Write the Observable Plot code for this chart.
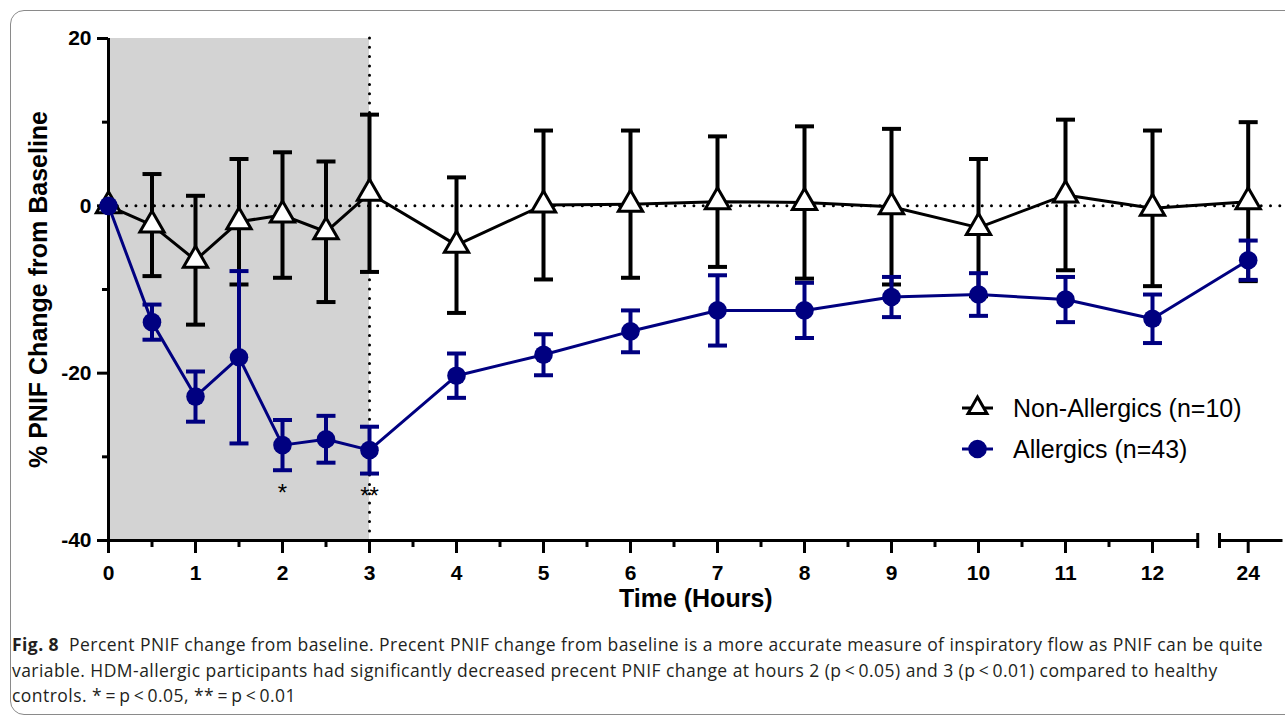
<!DOCTYPE html>
<html>
<head>
<meta charset="utf-8">
<script src="https://cdn.jsdelivr.net/npm/d3@7"></script>
<script src="https://cdn.jsdelivr.net/npm/@observablehq/plot@0.6"></script>
<style>
  html, body { margin: 0; padding: 0; background: white; }
  #wrap { position: relative; width: 1285px; height: 717px; overflow: hidden; }
  #chart { position: absolute; left: 0; top: 0; }
  #box { position: absolute; left: 10px; top: 10px; width: 1300px; height: 703px;
         border: 1.5px solid #8a8a8a; border-radius: 14px; pointer-events: none; }
  #legend { position: absolute; left: 960px; top: 394px; font-family: "Liberation Sans", Arial, sans-serif;
            font-size: 25px; color: #000; }
  .row { position: absolute; left: 0; height: 28px; white-space: nowrap; }
  .row svg { position: absolute; left: 0; top: 0; }
  .row span { position: absolute; left: 53px; top: 1px; line-height: 26px; }
  #caption { position: absolute; left: 12px; top: 632px; font-family: "Open Sans", "Noto Sans", sans-serif;
             font-size: 17.5px; line-height: 25.5px; color: #231f20; white-space: nowrap; letter-spacing: 0.45px; }
</style>
</head>
<body>
<div id="wrap">
  <div id="chart"></div>
  <div id="legend"></div>
  <div id="caption"></div>
  <div id="box"></div>
</div>
<script>
// ---------------- data ----------------
const times = [0, 0.5, 1, 1.5, 2, 2.5, 3, 4, 5, 6, 7, 8, 9, 10, 11, 12, 24];
const nonAllergicMean = [0, -2.3, -6.5, -1.9, -1.1, -3.1, 1.5, -4.7, 0.1, 0.2, 0.5, 0.4, -0.1, -2.6, 1.3, -0.3, 0.5];
const nonAllergicErr  = [0, 6.1, 7.7, 7.5, 7.5, 8.4, 9.4, 8.1, 8.9, 8.8, 7.8, 9.1, 9.3, 8.2, 9.0, 9.3, 9.5];
const allergicMean = [0, -13.9, -22.8, -18.1, -28.6, -27.9, -29.2, -20.3, -17.8, -15.0, -12.5, -12.5, -10.9, -10.6, -11.2, -13.5, -6.5];
const allergicErr  = [0, 2.1, 3.0, 10.3, 3.0, 2.8, 2.8, 2.65, 2.45, 2.5, 4.2, 3.3, 2.4, 2.55, 2.7, 2.9, 2.35];
const seriesNames = ["Non-Allergics (n=10)", "Allergics (n=43)"];
const sigTimes = [2, 3];
const sigLabels = ["*", "**"];
const xTickLabels = [0, 1, 2, 3, 4, 5, 6, 7, 8, 9, 10, 11, 12, 24];
const xMinorTicks = [0.5, 1.5, 2.5, 3.5, 4.5, 5.5, 6.5, 7.5, 8.5, 9.5, 10.5, 11.5];
const yTickLabels = [20, 0, -20, -40];
const yMinorTicks = [10, -10, -30];
const shadedWindow = [0, 3];
const yDomain = [-40, 20];
const xTitle = "Time (Hours)";
const yTitle = "% PNIF Change from Baseline";

// ---------------- layout (broken axis) ----------------
const brokenPos = 13.1;          // where 24 h sits after the axis break
const breakAt = [12.52, 12.77];  // axis gap
const xMax = 13.5;
const pos = t => (t <= 12 ? t : brokenPos);
const navy = "#000080";
const font = "'Liberation Sans', Arial, sans-serif";

const nonRows = times.map((t, i) => ({x: pos(t), y: nonAllergicMean[i], lo: nonAllergicMean[i] - nonAllergicErr[i], hi: nonAllergicMean[i] + nonAllergicErr[i], e: nonAllergicErr[i]}));
const allRows = times.map((t, i) => ({x: pos(t), y: allergicMean[i], lo: allergicMean[i] - allergicErr[i], hi: allergicMean[i] + allergicErr[i], e: allergicErr[i]}));
const nonBars = nonRows.filter(d => d.e > 0);
const allBars = allRows.filter(d => d.e > 0);
const sigRows = sigTimes.map((t, i) => ({x: pos(t), y: allRows[times.indexOf(t)].lo, label: sigLabels[i]}));
const tickLabelMap = new Map(xTickLabels.map(t => [pos(t), String(t)]));

const hline = {draw(ctx, size) { const w = Math.sqrt(size / Math.PI); ctx.moveTo(-w, 0); ctx.lineTo(w, 0); }};
const vline = {draw(ctx, size) { const w = Math.sqrt(size / Math.PI); ctx.moveTo(0, -w); ctx.lineTo(0, w); }};

const chart = Plot.plot({
  width: 1285,
  height: 625,
  marginLeft: 108,
  marginRight: 2.5,
  marginTop: 38,
  marginBottom: 85,
  style: {background: "transparent", fontFamily: font, color: "black", overflow: "visible"},
  x: {domain: [0, xMax], axis: null},
  y: {domain: yDomain, axis: null},
  marks: [
    Plot.rect([shadedWindow], {x1: d => d[0], x2: d => d[1], y1: yDomain[0], y2: yDomain[1], fill: "#d3d3d3"}),
    Plot.ruleY([0], {stroke: "black", strokeWidth: 3, strokeDasharray: "0,9.3", strokeLinecap: "round", x1: 0, x2: xMax}),
    Plot.ruleX([shadedWindow[1]], {stroke: "black", strokeWidth: 3, strokeDasharray: "0,9.3", strokeLinecap: "round"}),
    // axes
    Plot.axisY({ticks: yTickLabels, tickSize: 11, tickPadding: 6, strokeWidth: 3, fontSize: 21, fontWeight: "bold", tickFormat: d => String(d), label: null}),
    Plot.axisY({ticks: yMinorTicks, tickSize: 6, strokeWidth: 3, tickFormat: () => "", label: null}),
    Plot.axisX({ticks: xTickLabels.map(pos), tickSize: 13, tickPadding: 12, strokeWidth: 3, fontSize: 21, fontWeight: "bold", tickFormat: d => tickLabelMap.get(d), label: null}),
    Plot.axisX({ticks: xMinorTicks, tickSize: 7, strokeWidth: 3, tickFormat: () => "", label: null}),
    Plot.ruleX([0], {stroke: "black", strokeWidth: 3}),
    Plot.ruleY([[0, breakAt[0]], [breakAt[1], xMax]], {x1: d => d[0], x2: d => d[1], y: yDomain[0], stroke: "black", strokeWidth: 3}),
    Plot.dot(breakAt, {x: d => d, y: yDomain[0], symbol: vline, r: 7.5, fill: "none", stroke: "black", strokeWidth: 3}),
    Plot.text([yTitle], {frameAnchor: "left", textAnchor: "middle", text: d => d, rotate: -90, dx: -70, fontSize: 25, fontWeight: "bold"}),
    Plot.text([xTitle], {frameAnchor: "bottom", text: d => d, dy: 66, fontSize: 25, fontWeight: "bold"}),
    // Non-allergics
    Plot.ruleX(nonBars, {x: "x", y1: "lo", y2: "hi", stroke: "black", strokeWidth: 4}),
    Plot.dot(nonBars, {x: "x", y: "hi", symbol: hline, r: 9.5, fill: "none", stroke: "black", strokeWidth: 4}),
    Plot.dot(nonBars, {x: "x", y: "lo", symbol: hline, r: 9.5, fill: "none", stroke: "black", strokeWidth: 4}),
    Plot.line(nonRows, {x: "x", y: "y", stroke: "black", strokeWidth: 3}),
    Plot.dot(nonRows, {x: "x", y: "y", symbol: "triangle", r: 9, fill: "white", stroke: "black", strokeWidth: 3}),
    // Allergics
    Plot.ruleX(allBars, {x: "x", y1: "lo", y2: "hi", stroke: navy, strokeWidth: 4}),
    Plot.dot(allBars, {x: "x", y: "hi", symbol: hline, r: 9.5, fill: "none", stroke: navy, strokeWidth: 4}),
    Plot.dot(allBars, {x: "x", y: "lo", symbol: hline, r: 9.5, fill: "none", stroke: navy, strokeWidth: 4}),
    Plot.line(allRows, {x: "x", y: "y", stroke: navy, strokeWidth: 3}),
    Plot.dot(allRows, {x: "x", y: "y", r: 9.3, fill: navy}),
    // significance
    Plot.text(sigRows, {x: "x", y: "y", text: "label", dy: 23, fontSize: 24, fill: "black"})
  ]
});
document.getElementById("chart").appendChild(chart);

// ---------------- legend ----------------
const legend = d3.select("#legend");
const symTri = d3.symbol(d3.symbolTriangle2, 9 * 9 * Math.PI)();
const symCirc = d3.symbol(d3.symbolCircle, 9.3 * 9.3 * Math.PI)();
seriesNames.forEach((name, i) => {
  const row = legend.append("div").attr("class", "row").style("top", `${i * 41}px`);
  const s = row.append("svg").attr("width", 36).attr("height", 28);
  const color = i === 0 ? "black" : navy;
  s.append("line").attr("x1", 2).attr("x2", 33).attr("y1", 14).attr("y2", 14).attr("stroke", color).attr("stroke-width", 3);
  if (i === 0) s.append("path").attr("d", symTri).attr("transform", "translate(17.5,14)").attr("fill", "white").attr("stroke", "black").attr("stroke-width", 3);
  else s.append("path").attr("d", symCirc).attr("transform", "translate(17.5,14)").attr("fill", navy);
  row.append("span").text(name);
});

// ---------------- caption ----------------
const cap = document.getElementById("caption");
cap.innerHTML =
  "<b>Fig. 8</b>&nbsp; Percent PNIF change from baseline. Precent PNIF change from baseline is a more accurate measure of inspiratory flow as PNIF can be quite<br>" +
  "variable. HDM-allergic participants had significantly decreased precent PNIF change at hours 2 (p&#8201;&lt;&#8201;0.05) and 3 (p&#8201;&lt;&#8201;0.01) compared to healthy<br>" +
  "controls. *&#8201;=&#8201;p&#8201;&lt;&#8201;0.05, **&#8201;=&#8201;p&#8201;&lt;&#8201;0.01";
</script>
</body>
</html>
